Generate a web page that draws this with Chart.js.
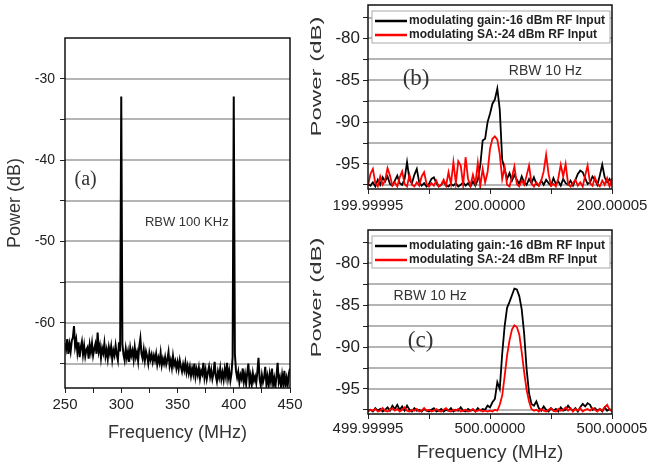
<!DOCTYPE html>
<html>
<head>
<meta charset="utf-8">
<script src="https://cdn.jsdelivr.net/npm/chart.js@4"></script>
<style>
  body { margin: 0; background: #fff; }
  .panel { position: absolute; }
  #boxA { left: 0; top: 0; width: 320px; height: 472px; }
  #boxB { left: 300px; top: 0; width: 347px; height: 230px; }
  #boxC { left: 300px; top: 225px; width: 347px; height: 247px; }
</style>
</head>
<body>
<div class="panel" id="boxA"><canvas id="chartA"></canvas></div>
<div class="panel" id="boxB"><canvas id="chartB"></canvas></div>
<div class="panel" id="boxC"><canvas id="chartC"></canvas></div>
<script>
// (a) wide span, 1 MHz sampling from 250 MHz
const aStartMHz = 250;
const aStepMHz = 1;
const aPower = [
  -62.5, -63.2, -62.0, -63.8, -62.6, -63.5, -62.2, -61.8, -60.4, -62.9,
  -62.1, -63.6, -62.4, -64.2, -63.0, -62.3, -63.9, -62.8, -64.1, -63.3,
  -63.0, -64.4, -62.7, -63.6, -62.5, -64.0, -63.2, -62.6, -63.8, -61.2,
  -63.5, -62.8, -64.3, -63.1, -63.7, -62.5, -64.1, -63.3, -64.4, -63.0,
  -63.8, -62.9, -64.5, -63.4, -64.0, -62.8, -63.9, -64.6, -62.4, -63.5,
  -32.2,
  -62.6, -63.9, -64.6, -63.2, -64.3, -63.5, -64.8, -63.1, -64.0,
  -63.4, -64.5, -63.0, -64.2, -63.6, -64.7, -62.9, -61.9, -63.8, -64.4,
  -63.3, -64.6, -63.5, -64.1, -65.0, -63.7, -64.5, -63.9, -64.8, -64.0,
  -64.6, -63.8, -65.1, -64.3, -64.9, -63.7, -65.2, -64.4, -65.0, -64.2,
  -65.1, -64.5, -63.6, -65.3, -64.6, -65.5, -64.1, -65.2, -64.7, -65.6,
  -64.8, -65.7, -64.6, -65.4, -66.0, -65.1, -65.8, -64.9, -66.1, -65.3,
  -66.2, -65.4, -66.5, -65.6, -66.3, -65.0, -66.6, -65.7, -66.4, -65.5,
  -66.8, -65.9, -66.3, -64.9, -66.7, -65.8, -66.9, -66.1, -65.4, -66.6,
  -65.8, -66.9, -66.2, -64.8, -66.5, -67.2, -66.0, -66.7, -65.6, -66.9,
  -66.1, -67.0, -65.7, -66.6, -64.9, -66.8, -65.9, -67.1, -66.2, -64.2,
  -32.2,
  -63.8, -65.9, -66.7, -66.0, -67.3, -66.4, -66.9, -65.6, -67.2,
  -66.3, -67.5, -66.1, -65.0, -67.4, -66.5, -67.6, -66.2, -67.1, -66.6,
  -67.4, -66.0, -64.3, -66.9, -67.7, -66.4, -67.3, -66.7, -65.4, -67.5,
  -66.6, -67.8, -66.3, -67.2, -65.6, -67.6, -66.8, -67.9, -66.5, -64.9,
  -67.3, -66.7, -67.8, -66.4, -67.5, -65.9, -67.9, -66.8, -67.6, -66.2,
  -65.6
];
const aYGrid = [-65, -60, -55, -50, -45, -40, -35, -30];

// (b) and (c): offset from the carrier in Hz, 1 Hz sampling
const nbStartHz = -50;
const nbStepHz = 1;
const bGain = [
  -97.4, -97.6, -97.2, -97.7, -96.9, -97.5, -96.6, -97.1, -96.5, -97.4,
  -97.6, -97.0, -96.4, -97.3, -97.5, -96.8, -94.8, -96.9, -97.3, -96.3,
  -95.6, -97.2, -97.6, -97.3, -97.7, -97.4, -96.8, -96.6, -97.3, -97.7,
  -97.5, -97.1, -97.6, -97.7, -97.4, -97.6, -97.3, -97.7, -97.5, -97.2,
  -97.6, -97.3, -97.7, -97.1, -97.6, -96.9, -95.2, -92.2, -92.0, -90.0,
  -89.0, -87.8, -87.3, -86.0, -88.5, -94.5, -95.6, -96.8, -96.1, -97.0,
  -96.3, -96.9, -97.4, -96.5, -97.2, -97.5, -96.8, -97.3, -96.6, -97.4,
  -97.6, -97.0, -97.5, -96.9, -97.3, -97.6, -96.7, -97.4, -97.1, -97.6,
  -96.8, -97.3, -97.5, -97.0, -97.6, -96.9, -96.2, -95.8, -96.0, -96.7,
  -97.4, -97.2, -96.5, -96.9, -97.5, -96.4, -95.1, -96.6, -97.2, -96.8,
  -97.5
];
const bSA = [
  -97.6, -96.2, -95.6, -97.3, -97.7, -96.5, -97.5, -97.0, -95.5, -96.4,
  -97.6, -97.2, -97.7, -96.6, -95.9, -97.4, -97.7, -96.3, -97.5, -97.7,
  -97.2, -97.6, -96.5, -96.0, -97.4, -97.7, -97.3, -97.6, -97.0, -97.7,
  -97.5, -96.9, -97.6, -96.0, -97.4, -94.8, -97.3, -94.7, -95.2, -97.5,
  -94.2, -96.8, -97.6, -96.3, -97.4, -94.9, -97.7, -95.6, -97.2, -96.0,
  -93.2, -92.0, -91.7, -92.1, -93.8, -96.8, -95.4, -97.5, -97.7, -96.6,
  -95.3, -97.4, -97.7, -97.0, -97.5, -96.4, -95.2, -97.3, -97.7, -97.2,
  -97.6, -97.0, -95.9, -93.9, -96.2, -97.6, -97.4, -97.7, -96.7, -95.1,
  -96.5, -95.0, -97.4, -97.7, -97.3, -96.9, -97.6, -97.2, -97.7, -96.4,
  -95.2, -97.3, -97.6, -96.6, -97.4, -97.7, -97.0, -97.5, -96.7, -97.7,
  -96.7
];
const cGain = [
  -97.6, -97.5, -97.7, -97.3, -97.6, -97.4, -97.7, -97.5, -97.2, -97.6,
  -97.0, -97.4, -96.9, -97.5, -97.1, -97.6, -97.0, -97.5, -97.7, -97.3,
  -97.6, -97.5, -97.7, -97.4, -97.6, -97.7, -97.5, -97.3, -97.7, -97.6,
  -97.4, -97.7, -97.5, -97.6, -97.3, -97.7, -97.5, -97.6, -97.2, -97.6,
  -97.7, -97.4, -97.6, -97.5, -97.7, -97.3, -97.6, -97.4, -97.5, -97.0,
  -97.2, -96.6, -96.2, -94.2, -95.0, -90.8, -87.5, -85.3, -84.6, -83.8,
  -83.0, -83.1, -83.9, -85.5, -88.4, -92.6, -95.5, -96.8, -97.0, -96.5,
  -97.3, -97.6, -97.1, -97.5, -97.7, -97.3, -97.6, -97.4, -97.7, -97.2,
  -97.6, -97.5, -97.0, -97.4, -97.6, -97.3, -97.7, -97.2, -96.8, -97.1,
  -96.7, -96.9, -97.5, -97.3, -97.6, -97.4, -97.7, -97.2, -97.6, -97.4,
  -97.7
];
const cSA = [
  -97.7, -97.5, -97.6, -97.4, -97.7, -97.6, -97.3, -97.6, -97.7, -97.5,
  -97.3, -97.6, -97.4, -97.7, -97.5, -97.2, -97.6, -97.7, -97.5, -97.6,
  -97.4, -97.7, -97.6, -97.3, -97.6, -97.5, -97.7, -97.6, -97.4, -97.6,
  -97.7, -97.5, -97.3, -97.6, -97.7, -97.5, -97.6, -97.4, -97.7, -97.6,
  -97.5, -97.7, -97.6, -97.4, -97.7, -97.6, -97.5, -97.7, -97.6, -97.7,
  -97.6, -97.7, -97.5, -97.6, -96.9, -95.8, -93.5, -91.0, -89.2, -87.9,
  -87.4, -87.6, -88.5, -90.6, -93.0, -95.1, -96.5, -97.4, -97.6, -97.5,
  -97.7, -97.4, -97.6, -97.7, -97.5, -97.3, -97.6, -97.7, -97.4, -97.6,
  -97.5, -97.2, -97.6, -97.3, -97.7, -97.4, -97.6, -97.3, -97.7, -97.5,
  -97.4, -97.6, -97.3, -97.5, -97.7, -97.4, -97.6, -97.2, -96.9, -97.5,
  -97.6
];
const nbYGrid = [-97.5, -95, -92.5, -90, -87.5, -85, -82.5, -80, -77.5];
const nbXTicks = [-50, -25, 0, 25, 50];
const bXTickLabels = ['199.99995', '', '200.00000', '', '200.00005'];
const cXTickLabels = ['499.99995', '', '500.00000', '', '500.00005'];
const seriesLabels = ['modulating gain:-16 dBm RF Input', 'modulating SA:-24 dBm RF Input'];

const SANS = '"Liberation Sans", Arial, sans-serif';
const SERIF = '"Liberation Serif", "Times New Roman", serif';

function toPoints(start, step, values) {
  return values.map((v, i) => ({ x: start + i * step, y: v }));
}

// fixes the axis box size so the plot frame lands where we want it
function fixBox(size) {
  return function (scale) {
    if (scale.isHorizontal()) scale.height = size; else scale.width = size;
    scale.paddingLeft = scale.paddingRight = scale.paddingTop = scale.paddingBottom = 0;
  };
}

// horizontal grid, frame, rotated y title, notes and the in-plot legend
const figText = {
  id: 'figText',
  beforeDatasetsDraw(chart, args, opts) {
    const { ctx, chartArea: a } = chart;
    const y = chart.scales.y;
    ctx.save();
    ctx.strokeStyle = '#b5b5b5';
    ctx.lineWidth = 2;
    (opts.grid || []).forEach(v => {
      const py = Math.round(y.getPixelForValue(v));
      ctx.beginPath();
      ctx.moveTo(a.left, py);
      ctx.lineTo(a.right, py);
      ctx.stroke();
    });
    ctx.restore();
  },
  afterDraw(chart, args, opts) {
    const { ctx, chartArea: a } = chart;
    const x = chart.scales.x, y = chart.scales.y;
    ctx.save();
    ctx.strokeStyle = '#111';
    ctx.lineWidth = 1.5;
    ctx.strokeRect(a.left, a.top, a.right - a.left, a.bottom - a.top);

    if (opts.legend) {
      const lx = a.left + 4, ly = a.top + 6;
      ctx.fillStyle = '#fff';
      ctx.fillRect(lx, ly, 238, 32);
      ctx.strokeStyle = '#aaa';
      ctx.lineWidth = 1;
      ctx.strokeRect(lx, ly, 238, 32);
      ctx.font = 'bold 12px ' + SANS;
      ctx.textBaseline = 'middle';
      chart.data.datasets.forEach((ds, i) => {
        const yy = ly + 10 + i * 14;
        ctx.strokeStyle = ds.borderColor;
        ctx.lineWidth = 2.5;
        ctx.beginPath();
        ctx.moveTo(lx + 3, yy);
        ctx.lineTo(lx + 35, yy);
        ctx.stroke();
        ctx.fillStyle = '#222';
        ctx.fillText(ds.label, lx + 37, yy);
      });
    }

    ctx.fillStyle = '#333';
    ctx.textBaseline = 'middle';
    ctx.textAlign = 'left';
    (opts.notes || []).forEach(n => {
      ctx.font = n.font;
      ctx.fillText(n.text, x.getPixelForValue(n.x), y.getPixelForValue(n.y));
    });

    const t = opts.yTitle;
    ctx.translate(t.x, t.y);
    ctx.rotate(-Math.PI / 2);
    ctx.scale(t.stretch || 1, 1);
    ctx.font = t.size + 'px ' + SANS;
    ctx.textAlign = 'center';
    ctx.fillText(t.text, 0, 0);
    ctx.restore();
  }
};

// ---- (a)
new Chart(document.getElementById('chartA'), {
  type: 'line',
  data: {
    datasets: [{
      data: toPoints(aStartMHz, aStepMHz, aPower),
      borderColor: '#000',
      borderWidth: 2,
      pointRadius: 0,
      tension: 0
    }]
  },
  options: {
    responsive: true,
    maintainAspectRatio: false,
    animation: false,
    layout: { padding: { top: 38, right: 30, left: 0, bottom: 0 } },
    scales: {
      x: {
        type: 'linear', min: 250, max: 450,
        afterFit: fixBox(84),
        ticks: {
          stepSize: 25, autoSkip: false, maxRotation: 0, padding: 3,
          color: '#222', font: { family: SANS, size: 15 },
          callback: v => (v % 50 === 0 ? v : '')
        },
        grid: { drawOnChartArea: false, tickLength: 5, tickColor: '#222' },
        border: { display: false },
        title: {
          display: true, text: 'Frequency (MHz)', color: '#333',
          font: { family: SANS, size: 18 }, padding: { top: 0, bottom: 28 }
        }
      },
      y: {
        type: 'linear', min: -68, max: -25,
        afterFit: fixBox(65),
        afterBuildTicks: s => { s.ticks = aYGrid.map(v => ({ value: v })); },
        ticks: {
          autoSkip: false, padding: 5, color: '#222', font: { family: SANS, size: 14 },
          callback: v => (v % 10 === 0 ? v : '')
        },
        grid: { drawOnChartArea: false, tickLength: 5, tickColor: '#222' },
        border: { display: false }
      }
    },
    plugins: {
      legend: { display: false },
      tooltip: { enabled: false },
      figText: {
        grid: aYGrid,
        yTitle: { text: 'Power (dB)', x: 15, y: 203, size: 18 },
        notes: [
          { text: '(a)', x: 258.5, y: -42.4, font: '20px ' + SERIF },
          { text: 'RBW 100 KHz', x: 321, y: -47.6, font: '13px ' + SANS }
        ]
      }
    }
  },
  plugins: [figText]
});

// ---- (b) and (c) share the same layout
function narrowChart(id, gain, sa, tickLabels, withTitle, notes, titleY) {
  new Chart(document.getElementById(id), {
    type: 'line',
    data: {
      datasets: [
        { label: seriesLabels[0], data: toPoints(nbStartHz, nbStepHz, gain), borderColor: '#000',
          borderWidth: 1.8, pointRadius: 0, tension: 0, order: 2 },
        { label: seriesLabels[1], data: toPoints(nbStartHz, nbStepHz, sa), borderColor: '#ff0000',
          borderWidth: 1.8, pointRadius: 0, tension: 0, order: 1 }
      ]
    },
    options: {
      responsive: true,
      maintainAspectRatio: false,
      animation: false,
      layout: { padding: { top: 5, right: 35, left: 0, bottom: 0 } },
      scales: {
        x: {
          type: 'linear', min: -50, max: 50,
          afterFit: fixBox(withTitle ? 58 : 41),
          afterBuildTicks: s => { s.ticks = nbXTicks.map(v => ({ value: v })); },
          ticks: {
            autoSkip: false, maxRotation: 0, padding: withTitle ? 1 : 3,
            color: '#222', font: { family: SANS, size: 15 },
            callback: v => tickLabels[nbXTicks.indexOf(v)]
          },
          grid: { drawOnChartArea: false, tickLength: 5, tickColor: '#222' },
          border: { display: false },
          title: {
            display: withTitle, text: 'Frequency (MHz)', color: '#333',
            font: { family: SANS, size: 19 }, padding: { top: 0, bottom: 8 }
          }
        },
        y: {
          type: 'linear', min: -98, max: -76,
          afterFit: fixBox(68),
          afterBuildTicks: s => { s.ticks = nbYGrid.map(v => ({ value: v })); },
          ticks: {
            autoSkip: false, padding: 3, color: '#222', font: { family: SANS, size: 17 },
            callback: v => (v % 5 === 0 ? v : '')
          },
          grid: { drawOnChartArea: false, tickLength: 5, tickColor: '#222' },
          border: { display: false }
        }
      },
      plugins: {
        legend: { display: false },
        tooltip: { enabled: false },
        figText: {
          grid: nbYGrid,
          legend: true,
          yTitle: { text: 'Power (dB)', x: 16.5, y: titleY, size: 15, stretch: 1.6 },
          notes: notes
        }
      }
    },
    plugins: [figText]
  });
}

narrowChart('chartB', bGain, bSA, bXTickLabels, false, [
  { text: '(b)', x: -35.8, y: -84.9, font: '23px ' + SERIF },
  { text: 'RBW 10 Hz', x: 7.7, y: -83.9, font: '14px ' + SANS }
], 76.5);

narrowChart('chartC', cGain, cSA, cXTickLabels, true, [
  { text: 'RBW 10 Hz', x: -39.5, y: -83.9, font: '14px ' + SANS },
  { text: '(c)', x: -33.7, y: -89.3, font: '23px ' + SERIF }
], 72.5);
</script>
</body>
</html>
